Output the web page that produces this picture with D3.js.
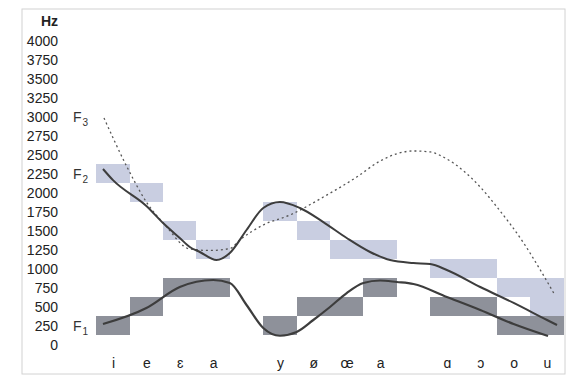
<!DOCTYPE html>
<html><head><meta charset="utf-8">
<script src="https://cdn.jsdelivr.net/npm/d3@7"></script>
<style>
html,body{margin:0;padding:0;background:#fff;}
svg{display:block;font-family:"Liberation Sans",Arial,sans-serif;}
</style></head>
<body><svg id="c" width="583" height="388"></svg>
<script>
// ---- data ----
const categories = ["i","e","ɛ","a","","y","ø","œ","a","","ɑ","ɔ","o","u"];
const yTicks = [0,250,500,750,1000,1250,1500,1750,2000,2250,2500,2750,3000,3250,3500,3750,4000];
// formant ranges per vowel (Hz): slot index, low, high
const f1Slot = [0,1,2,3,5,6,7,8,10,11,12,13];
const f1Lo   = [125,375,625,625,125,375,375,625,375,375,125,125];
const f1Hi   = [375,625,875,875,375,625,625,875,625,625,375,375];
const f2Slot = [0,1,2,3,5,6,7,8,10,11,12,13];
const f2Lo   = [2125,1875,1375,1125,1625,1375,1125,1125,875,875,625,375];
const f2Hi   = [2375,2125,1625,1375,1875,1625,1375,1375,1125,1125,875,875];
// measured formant tracks (x in slot units, Hz)
const f1X  = [-0.3,1,2,3,3.5,4,4.5,5,5.5,6,6.5,7,7.5,8,8.5,9,10,11,12,13.03];
const f1Hz = [272,483,759,851,812,522,220,118,167,325,496,680,812,845,825,799,628,457,272,114];
const f2X  = [-0.3,0,1,1.5,2,2.3,2.6,3.1,3.5,4,4.5,5,5.6,6.3,7,7.7,8.3,9,9.5,10,11,12,13,13.3];
const f2Hz = [2312,2165,1825,1601,1404,1286,1220,1114,1207,1509,1799,1878,1799,1614,1404,1220,1114,1075,1062,983,759,549,325,259];
const f3X  = [-0.27,0.42,1.02,1.56,2.3,2.9,3.5,3.8,4.5,5.3,6.3,7.3,8,9,9.5,10,11,11.5,12.3,12.8,13.2];
const f3Hz = [2983,2338,1864,1575,1259,1240,1265,1378,1575,1706,1943,2206,2417,2549,2536,2444,2075,1812,1338,983,680];
const fLabels = [{n:"3",hz:3000},{n:"2",hz:2250},{n:"1",hz:250}];

// ---- drawing ----
const svg = d3.select("#c");
const x = d3.scaleLinear().domain([0,13]).range([113,547]);
const y = d3.scaleLinear().domain([0,4000]).range([344.7,40.7]);
const half = (x(1)-x(0))/2;

// frame
svg.append("rect").attr("x",22).attr("y",9).attr("width",543).attr("height",365)
  .attr("fill","none").attr("stroke","#d2d2d2").attr("stroke-width",1);

// boxes
svg.append("g").selectAll("rect").data(f2Slot.map((s,i)=>({s,lo:f2Lo[i],hi:f2Hi[i]})))
  .join("rect")
  .attr("x",d=>x(d.s)-half).attr("width",half*2)
  .attr("y",d=>y(d.hi)).attr("height",d=>y(d.lo)-y(d.hi))
  .attr("fill","#c9cee1").attr("shape-rendering","crispEdges");
svg.append("g").selectAll("rect").data(f1Slot.map((s,i)=>({s,lo:f1Lo[i],hi:f1Hi[i]})))
  .join("rect")
  .attr("x",d=>x(d.s)-half).attr("width",half*2)
  .attr("y",d=>y(d.hi)).attr("height",d=>y(d.lo)-y(d.hi))
  .attr("fill","#8e919a").attr("shape-rendering","crispEdges");

// tracks
const line = d3.line().x(d=>x(d[0])).y(d=>y(d[1])).curve(d3.curveMonotoneX);
svg.append("path").datum(f3X.map((v,i)=>[v,f3Hz[i]])).attr("d",line)
  .attr("fill","none").attr("stroke","#555").attr("stroke-width",1.3)
  .attr("stroke-dasharray","2,3");
svg.append("path").datum(f2X.map((v,i)=>[v,f2Hz[i]])).attr("d",line)
  .attr("fill","none").attr("stroke","#3d3d3d").attr("stroke-width",2);
svg.append("path").datum(f1X.map((v,i)=>[v,f1Hz[i]])).attr("d",line)
  .attr("fill","none").attr("stroke","#3d3d3d").attr("stroke-width",2.2);

// y axis
const ya = svg.append("g").attr("transform","translate(61,0)")
  .call(d3.axisLeft(y).tickValues(yTicks).tickSize(0).tickPadding(3).tickFormat(d3.format("d")));
ya.select(".domain").remove();
ya.selectAll("text").attr("font-size",14).attr("fill","#222").attr("font-family","Liberation Sans, Arial, sans-serif");

svg.append("text").attr("x",58).attr("y",26).attr("text-anchor","end")
  .attr("font-size",14).attr("font-weight","bold").attr("fill","#222").text("Hz");

// x axis
const idx = categories.map((c,i)=>i).filter(i=>categories[i]!=="");
const xa = svg.append("g").attr("transform","translate(0,358)")
  .call(d3.axisBottom(x).tickValues(idx).tickSize(0).tickPadding(0).tickFormat(i=>categories[i]));
xa.select(".domain").remove();
xa.selectAll("text").attr("font-size",14).attr("fill","#222").attr("font-family","Liberation Sans, Arial, sans-serif");

// formant labels
const fl = svg.append("g").selectAll("text").data(fLabels).join("text")
  .attr("x",73).attr("y",d=>y(d.hz)+5).attr("font-size",14).attr("fill","#333");
fl.append("tspan").text("F");
fl.append("tspan").attr("font-size",10).attr("dy",4).attr("dx",1).text(d=>d.n);
</script></body></html>
